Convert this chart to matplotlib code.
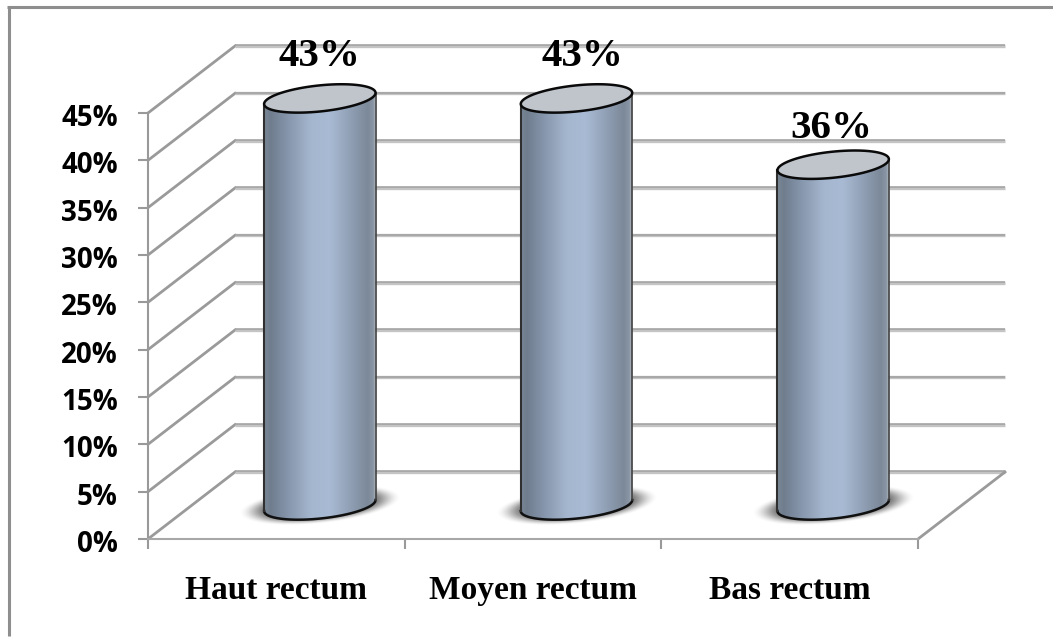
import numpy as np
import matplotlib
matplotlib.use('Agg')
import matplotlib.pyplot as plt
from matplotlib.colors import LinearSegmentedColormap
from matplotlib.lines import Line2D
from matplotlib.patches import PathPatch, Polygon
from matplotlib.path import Path
from matplotlib.transforms import ScaledTranslation

categories = ['Haut rectum', 'Moyen rectum', 'Bas rectum']
values = [43, 43, 36]
value_labels = ['43%', '43%', '36%']
y_ticks = [0, 5, 10, 15, 20, 25, 30, 35, 40, 45]
y_tick_labels = ['0%', '5%', '10%', '15%', '20%', '25%', '30%', '35%', '40%', '45%']

# Taille de la figure et du plan avant, en pixels
W, H = 1053, 637
LEFT, RIGHT, BOTTOM, TOP = 148, 918, 539, 113
PX_X = (RIGHT - LEFT) / 3      # pixels par catégorie
PX_Y = (BOTTOM - TOP) / 45     # pixels par point de %

# Profondeur de la boîte 3D
depth_x = 87 / PX_X
depth_y = 67 / PX_Y

# Ellipse du cylindre, en pixels
ELL_A, ELL_B, ELL_ANGLE = 56, 13, np.radians(6)

body_cmap = LinearSegmentedColormap.from_list('cylindre', [
    (0.00, '#7b8796'), (0.06, '#6f7d8e'), (0.22, '#8797ad'), (0.42, '#a5b7cf'),
    (0.58, '#a9bbd4'), (0.78, '#8e9db2'), (0.92, '#7c8999'), (0.97, '#8a96a4'),
    (1.00, '#c5cbd2')])


def ellipse_points(cx, cy, t, a=ELL_A, b=ELL_B):
    # Points d'une ellipse inclinée, tracée en pixels puis ramenée aux données
    ex = a * np.cos(t) * np.cos(ELL_ANGLE) - b * np.sin(t) * np.sin(ELL_ANGLE)
    ey = a * np.cos(t) * np.sin(ELL_ANGLE) + b * np.sin(t) * np.cos(ELL_ANGLE)
    return np.column_stack([cx + ex / PX_X, cy + ey / PX_Y])


fig = plt.figure(figsize=(W / 100, H / 100), dpi=100, facecolor='white')
ax = fig.add_axes([LEFT / W, 1 - BOTTOM / H, (RIGHT - LEFT) / W, (BOTTOM - TOP) / H])
ax.patch.set_visible(False)

# Cadre extérieur du graphique
frame = dict(color='#8e8e8e', lw=2.2, transform=fig.transFigure, solid_capstyle='butt')
fig.add_artist(Line2D([8.5 / W, 8.5 / W], [1 - 636 / H, 1 - 6 / H], **frame))
fig.add_artist(Line2D([7 / W, 1], [1 - 7 / H, 1 - 7 / H], **frame))

# Parois : diagonales à gauche et lignes horizontales du fond
for tick in y_ticks:
    back_y = tick + depth_y
    ax.plot([0, depth_x], [tick, back_y], color='#9a9a9a', lw=2.0, clip_on=False, zorder=1)
    ax.plot([depth_x, 3 + depth_x], [back_y, back_y], color='#c4c4c4', lw=2.4,
            clip_on=False, zorder=1, solid_capstyle='butt')
    ax.plot([depth_x, 3 + depth_x], [back_y + 0.06, back_y + 0.06], color='#a0a0a0', lw=1.1,
            clip_on=False, zorder=1, solid_capstyle='butt')
ax.plot([3, 3 + depth_x], [0, depth_y], color='#9a9a9a', lw=2.0, clip_on=False, zorder=1)

# Cylindres avec leur ombre au sol
t0 = np.arctan2(-ELL_B * np.sin(ELL_ANGLE), ELL_A * np.cos(ELL_ANGLE))
gradient = np.linspace(0, 1, 256).reshape(1, -1)
half_w = ELL_A * np.cos(ELL_ANGLE) / PX_X + 0.002
for i, value in enumerate(values):
    cx = i + 0.5 + depth_x / 2
    y_base = depth_y / 2
    y_top = value + depth_y / 2

    # Ombre floue sous le cylindre
    ux, uy = np.meshgrid(np.linspace(-95, 95, 191), np.linspace(-36, 36, 73))
    u = ux * np.cos(ELL_ANGLE) + uy * np.sin(ELL_ANGLE)
    v = -ux * np.sin(ELL_ANGLE) + uy * np.cos(ELL_ANGLE)
    r = np.sqrt((u / 82) ** 2 + (v / 19) ** 2)
    fade = np.clip((1 - r) / 0.42, 0, 1)
    shadow = np.zeros(r.shape + (4,))
    shadow[..., :3] = 0.3
    shadow[..., 3] = 0.9 * fade * fade * (3 - 2 * fade)
    ax.imshow(shadow, origin='lower', aspect='auto', zorder=2, clip_on=False,
              extent=(cx - 95 / PX_X, cx + 95 / PX_X, y_base - 36 / PX_Y, y_base + 36 / PX_Y))

    # Corps du cylindre : dégradé horizontal découpé par son contour
    lower = ellipse_points(cx, y_base, np.linspace(t0 + np.pi, t0 + 2 * np.pi, 80))
    upper = ellipse_points(cx, y_top, np.linspace(t0 + 2 * np.pi, t0 + np.pi, 80))
    outline = np.vstack([lower, upper, lower[:1]])
    clip = PathPatch(Path(outline), transform=ax.transData, visible=False)
    ax.add_patch(clip)
    body = ax.imshow(gradient, cmap=body_cmap, aspect='auto', zorder=3,
                     extent=(cx - half_w, cx + half_w, y_base - 2, y_top + 2))
    body.set_clip_box(fig.bbox)
    body.set_clip_path(clip)

    # Arêtes du cylindre
    ax.plot(lower[:, 0], lower[:, 1], color='#101010', lw=1.8, clip_on=False, zorder=4)
    ax.plot([lower[0, 0], upper[-1, 0]], [lower[0, 1], upper[-1, 1]], color='#303030',
            lw=1.5, clip_on=False, zorder=4)
    ax.plot([lower[-1, 0], upper[0, 0]], [lower[-1, 1], upper[0, 1]], color='#404040',
            lw=1.2, clip_on=False, zorder=4)

    # Face supérieure
    top_pts = ellipse_points(cx, y_top, np.linspace(0, 2 * np.pi, 160))
    ax.add_patch(Polygon(top_pts, closed=True, facecolor='#c0c5cc', edgecolor='#0a0a0a',
                         lw=1.8, clip_on=False, zorder=5))

# Étiquettes de valeur, placées à la main au-dessus des cylindres
label_gap = [42, 42, 36]
label_shift = [0, 6, -2]
for i, value in enumerate(values):
    ax.text(i + 0.5 + depth_x / 2 + label_shift[i] / PX_X,
            value + depth_y / 2 + label_gap[i] / PX_Y, value_labels[i],
            ha='center', va='center', fontsize=29.5, fontweight='bold',
            family='Liberation Serif', color='black', zorder=6, clip_on=False)

# Axes
ax.set_xlim(0, 3)
ax.set_ylim(0, 45)
for side in ['top', 'right']:
    ax.spines[side].set_visible(False)
ax.spines['left'].set_color('#999999')
ax.spines['left'].set_linewidth(1.5)
ax.spines['bottom'].set_color('#a8a8a8')
ax.spines['bottom'].set_linewidth(1.5)

ax.set_yticks(y_ticks)
ax.set_yticklabels(y_tick_labels, fontsize=20, fontweight='bold', family='Open Sans', color='black')
ax.tick_params(axis='y', length=7.2, width=1.5, color='#999999', pad=14.5)
label_offset = ScaledTranslation(0, -2 / 100, fig.dpi_scale_trans)
for label in ax.get_yticklabels():
    label.set_transform(label.get_transform() + label_offset)

ax.set_xticks([0, 1, 2, 3])
ax.set_xticklabels([])
ax.tick_params(axis='x', which='major', length=7.2, width=1.5, color='#999999')
ax.set_xticks([0.5, 1.5, 2.5], minor=True)
ax.set_xticklabels(categories, minor=True, fontsize=24, fontweight='bold',
                   family='Liberation Serif', color='black')
ax.tick_params(axis='x', which='minor', length=0, pad=26)

fig.savefig('out.png', dpi=100)
